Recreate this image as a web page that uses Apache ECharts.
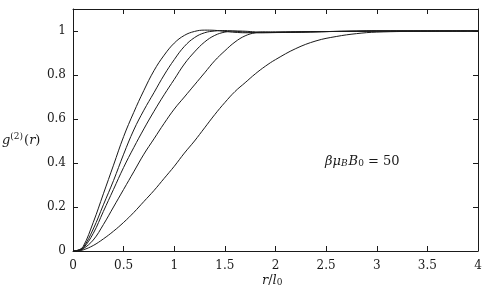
<!DOCTYPE html>
<html>
<head>
<meta charset="utf-8">
<script src="https://cdn.jsdelivr.net/npm/echarts@6/dist/echarts.min.js"></script>
<style>
  html, body { margin: 0; padding: 0; background: #fff; }
  #chart { width: 486px; height: 294px; }
</style>
</head>
<body>
<div id="chart"></div>
<script>
// r / l0 sample points shared by all curves
const rValues = [0, 0.05, 0.1, 0.2, 0.3, 0.4, 0.5, 0.6, 0.7, 0.8, 0.9, 1.0, 1.1, 1.2, 1.3, 1.4, 1.5, 1.6, 1.7, 1.8, 1.9, 2.0, 2.2, 2.4, 2.6, 2.8, 3.0, 3.5, 4.0];

// g2(r), steepest curve first
const curve1 = [0, 0.004, 0.02, 0.13, 0.26, 0.39, 0.52, 0.63, 0.73, 0.82, 0.89, 0.945, 0.98, 0.998, 1.004, 1.003, 0.998, 0.994, 0.992, 0.992, 0.993, 0.994, 0.996, 0.997, 0.998, 0.999, 1.0, 1.0, 1.0];
const curve2 = [0, 0.003, 0.015, 0.1, 0.21, 0.32, 0.44, 0.55, 0.64, 0.72, 0.8, 0.87, 0.93, 0.97, 0.992, 1.0, 1.002, 0.999, 0.995, 0.993, 0.992, 0.993, 0.995, 0.997, 0.998, 0.999, 1.0, 1.0, 1.0];
const curve3 = [0, 0.003, 0.012, 0.08, 0.18, 0.28, 0.38, 0.47, 0.555, 0.635, 0.71, 0.78, 0.85, 0.905, 0.95, 0.98, 0.995, 1.0, 0.999, 0.996, 0.994, 0.993, 0.994, 0.996, 0.998, 0.999, 1.0, 1.0, 1.0];
const curve4 = [0, 0.002, 0.01, 0.05, 0.12, 0.2, 0.28, 0.36, 0.44, 0.51, 0.58, 0.645, 0.7, 0.755, 0.81, 0.865, 0.91, 0.95, 0.978, 0.992, 0.996, 0.996, 0.996, 0.997, 0.998, 0.999, 1.0, 1.0, 1.0];
const curve5 = [0, 0.001, 0.005, 0.025, 0.055, 0.09, 0.13, 0.175, 0.225, 0.275, 0.33, 0.385, 0.445, 0.5, 0.56, 0.62, 0.675, 0.725, 0.765, 0.805, 0.84, 0.87, 0.92, 0.955, 0.975, 0.988, 0.995, 0.999, 1.0];

const xTicks = [0, 0.5, 1, 1.5, 2, 2.5, 3, 3.5, 4];
const yTicks = [0, 0.2, 0.4, 0.6, 0.8, 1];

const FONT = 'DejaVu Serif';
const INK = '#1a1a1a';

const chart = echarts.init(document.getElementById('chart'), null, { renderer: 'canvas' });

const pairs = (ys) => rValues.map((r, i) => [r, ys[i]]);

const fmt = (v) => {
    const t = Math.round(v * 10) / 10;
    return String(t);
};

const baseAxis = {
    type: 'value',
    axisLine: { show: true, onZero: false, lineStyle: { color: INK, width: 1 } },
    axisTick: { show: true, inside: true, length: 5, lineStyle: { color: INK, width: 1 } },
    splitLine: { show: false },
};

const option = {
    backgroundColor: '#fff',
    animation: false,
    grid: { left: 73, right: 8, top: 9, bottom: 43, containLabel: false },
    xAxis: [
        {
            ...baseAxis,
            min: 0, max: 4, interval: 0.5,
            axisLabel: {
                color: INK, fontFamily: FONT, fontSize: 12, margin: 9,
                formatter: (v) => xTicks.includes(v) ? fmt(v) : ''
            },
        },
        {
            ...baseAxis,
            position: 'top',
            min: 0, max: 4, interval: 0.5,
            axisLabel: { show: false },
        }
    ],
    yAxis: [
        {
            ...baseAxis,
            min: 0, max: 1.1, interval: 0.2,
            axisLabel: {
                color: INK, fontFamily: FONT, fontSize: 12, margin: 7,
                showMaxLabel: false,
                formatter: (v) => yTicks.some(t => Math.abs(t - v) < 1e-6) ? fmt(v) : ''
            },
        },
        {
            ...baseAxis,
            position: 'right',
            min: 0, max: 1.1, interval: 0.2,
            axisLabel: { show: false },
        }
    ],
    series: [curve1, curve2, curve3, curve4, curve5].map((ys) => ({
        type: 'line',
        data: pairs(ys),
        smooth: 0.4,
        showSymbol: false,
        lineStyle: { color: INK, width: 1 },
    })),
    graphic: [
        {
            type: 'text',
            left: 2, top: 132,
            style: {
                text: '{i|g}{s|(2)}{n|(}{i|r}{n|)}',
                rich: {
                    i: { fontFamily: FONT, fontStyle: 'italic', fontSize: 13, fill: INK },
                    n: { fontFamily: FONT, fontSize: 13, fill: INK },
                    s: { fontFamily: FONT, fontSize: 9, fill: INK, verticalAlign: 'top', padding: [0, 1, 8, 0] },
                }
            }
        },
        {
            type: 'text',
            left: 262, top: 274,
            style: {
                text: '{i|r}{n|/}{i|l}{s|0}',
                rich: {
                    i: { fontFamily: FONT, fontStyle: 'italic', fontSize: 13, fill: INK },
                    n: { fontFamily: FONT, fontSize: 13, fill: INK },
                    s: { fontFamily: FONT, fontSize: 9, fill: INK, verticalAlign: 'bottom', padding: [5, 0, 0, 0] },
                }
            }
        },
        {
            type: 'text',
            left: 325, top: 155,
            style: {
                text: '{i|βμ}{s|B}{i|B}{s0|0}{n| = 50}',
                rich: {
                    i: { fontFamily: FONT, fontStyle: 'italic', fontSize: 13, fill: INK },
                    n: { fontFamily: FONT, fontSize: 13, fill: INK },
                    s: { fontFamily: FONT, fontStyle: 'italic', fontSize: 9, fill: INK, verticalAlign: 'bottom', padding: [5, 1, 0, 0] },
                    s0: { fontFamily: FONT, fontSize: 9, fill: INK, verticalAlign: 'bottom', padding: [5, 0, 0, 0] },
                }
            }
        }
    ]
};

chart.setOption(option);
</script>
</body>
</html>
